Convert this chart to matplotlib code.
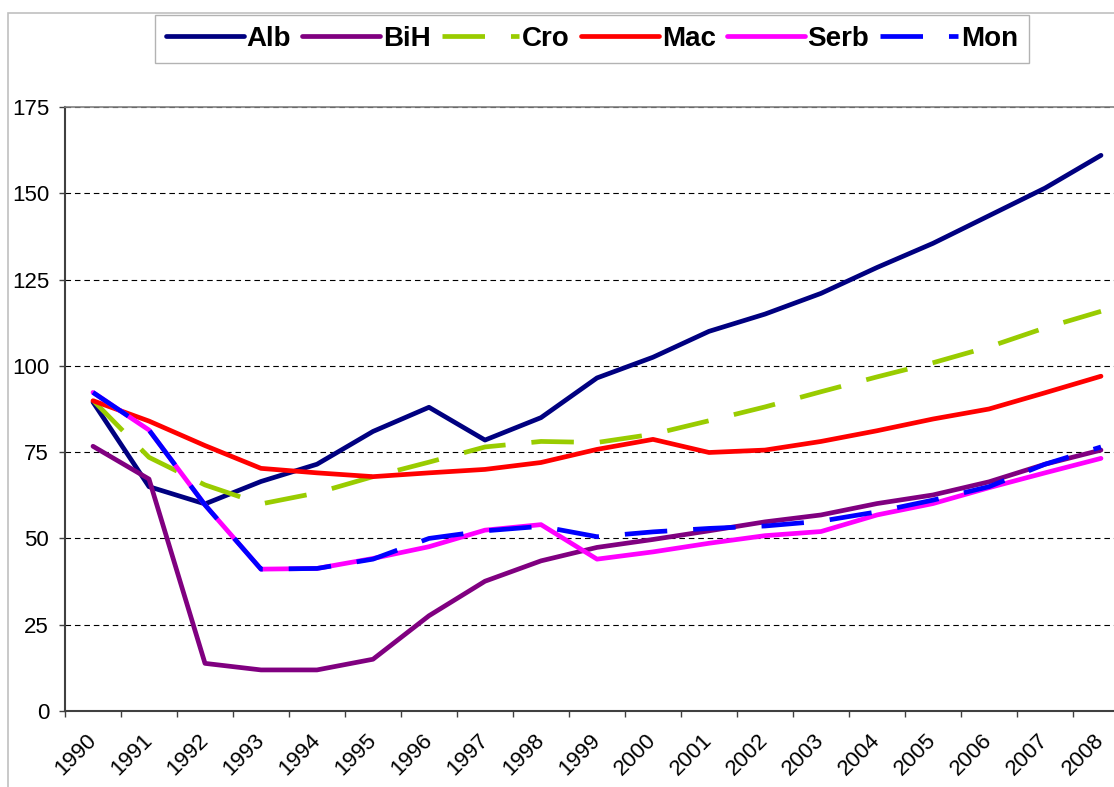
import numpy as np
import matplotlib
matplotlib.use("Agg")
import matplotlib.pyplot as plt
from matplotlib.patches import Rectangle

plt.rcParams['font.family'] = ['Liberation Sans', 'DejaVu Sans']

years = [str(y) for y in range(1990, 2009)]

alb = [89.5, 65.0, 60.0, 66.5, 71.5, 81.0, 88.0, 78.5, 85.0, 96.5, 102.5,
       110.0, 115.0, 121.0, 128.5, 135.5, 143.5, 151.5, 161.0]
bih = [76.7, 67.2, 13.8, 11.9, 11.9, 15.0, 27.6, 37.6, 43.5, 47.4, 49.7,
       52.2, 54.8, 56.8, 60.1, 62.6, 66.4, 71.5, 75.6]
cro = [90.0, 73.5, 65.5, 60.0, 63.2, 67.9, 72.1, 76.5, 78.1, 77.8, 80.2,
       84.1, 88.1, 92.5, 96.8, 100.9, 105.5, 111.0, 115.8]
mac = [89.9, 84.0, 76.9, 70.3, 69.0, 67.9, 69.0, 70.0, 72.0, 75.8, 78.7,
       74.9, 75.6, 78.1, 81.2, 84.6, 87.5, 92.2, 97.0]
serb = [92.3, 81.4, 59.7, 41.1, 41.3, 44.2, 47.6, 52.4, 54.0, 44.0, 46.1,
        48.6, 50.8, 52.0, 56.8, 60.1, 64.7, 69.0, 73.2]
mon = [92.3, 81.4, 59.7, 41.1, 41.3, 44.0, 50.0, 52.2, 53.5, 50.5, 51.9,
       52.9, 53.6, 55.0, 57.7, 61.1, 65.0, 71.5, 76.5]

series = [
    ("Alb", alb, "#000080", None),
    ("BiH", bih, "#800080", None),
    ("Cro", cro, "#99CC00", (9, 5.5)),
    ("Mac", mac, "#FF0000", None),
    ("Serb", serb, "#FF00FF", None),
    ("Mon", mon, "#0000FF", (9, 5.5)),
]

W, H = 1114, 787
fig = plt.figure(figsize=(W / 100, H / 100), dpi=100)

# chart area border (light gray, partly outside the picture like the source)
fig.patches.append(Rectangle((8 / W, -0.2), 1.5, 1.2 - 13 / H,
                             transform=fig.transFigure, fill=False,
                             edgecolor="#c0c0c0", linewidth=1.2))

ax = fig.add_axes([65 / W, 1 - 711 / H, (1129 - 65) / W, (711 - 107) / H])
x = np.arange(len(years))

for name, vals, col, dash in series:
    if dash:
        ax.plot(x, vals, color=col, linewidth=3.4, label=name,
                dashes=dash, dash_capstyle="butt")
    else:
        ax.plot(x, vals, color=col, linewidth=3.4, label=name,
                solid_capstyle="round", solid_joinstyle="round")

ax.set_xlim(-0.5, 18.5)
ax.set_ylim(0, 175)
ax.set_yticks(np.arange(0, 176, 25))
ax.tick_params(axis="y", labelsize=16, length=4.5, width=1, color="#404040", pad=7)
ax.yaxis.grid(True, linestyle=(0, (5, 3.5)), color="black", linewidth=0.8)
ax.set_axisbelow(True)

ax.set_xticks(np.arange(-0.5, 19, 1))
ax.set_xticklabels([])
ax.set_xticks(x, minor=True)
ax.set_xticklabels(years, minor=True, rotation=45, ha="right",
                   va="center", rotation_mode="anchor", fontsize=16)
ax.tick_params(axis="x", which="major", length=4.5, width=1, color="#404040")
ax.tick_params(axis="x", which="minor", length=0, pad=19)

for s in ["left", "bottom"]:
    ax.spines[s].set_color("#404040")
    ax.spines[s].set_linewidth(1.5)
ax.spines["top"].set_color("#808080")
ax.spines["top"].set_linewidth(1.2)
ax.spines["right"].set_visible(False)

leg = ax.legend(loc="center", bbox_to_anchor=(592 / W, 1 - 39 / H),
                bbox_transform=fig.transFigure, ncol=6, frameon=True,
                fancybox=False, edgecolor="#a0a0a0", handlelength=2.8,
                handletextpad=0.1, columnspacing=0.4, borderpad=0.4,
                prop={"weight": "bold", "size": 20})
leg.get_frame().set_linewidth(1.0)

fig.savefig("out.png", dpi=100)
